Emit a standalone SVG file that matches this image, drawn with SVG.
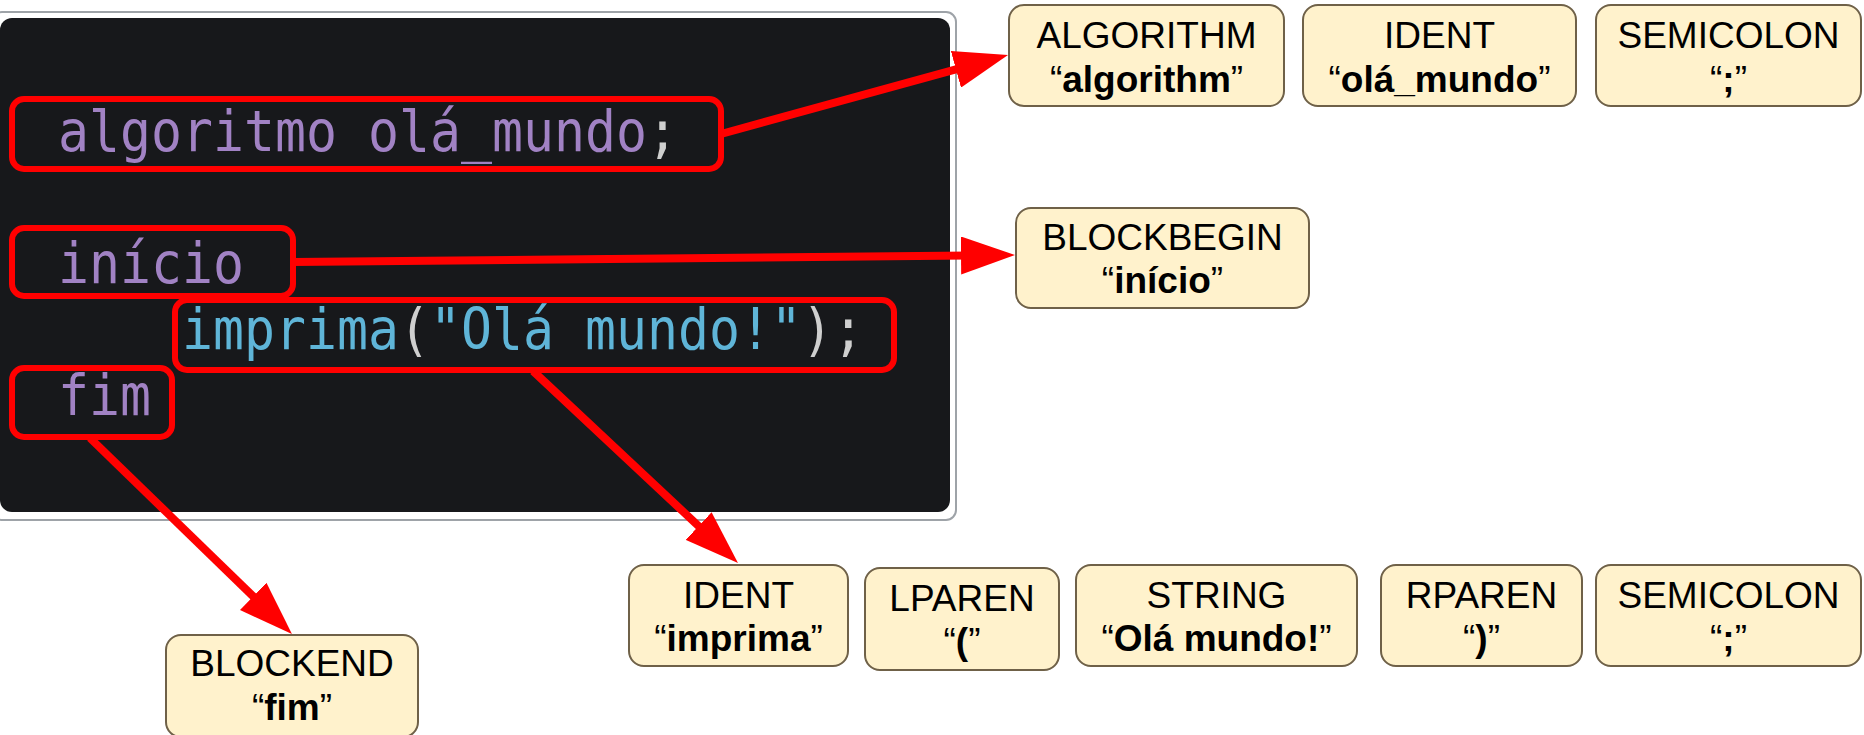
<svg xmlns="http://www.w3.org/2000/svg" width="1864" height="735" viewBox="0 0 1864 735">
  <style>
    .node rect { fill: #fff2cc; stroke: #6f6148; stroke-width: 2; }
    .node text { font-family: "Liberation Sans", Arial, sans-serif; font-size: 37px; fill: #000; text-anchor: middle; }
    .node .b { font-weight: bold; }
    .code { font-family: "DejaVu Sans Mono", "Liberation Mono", monospace; font-size: 51.5px; }
    .kw { fill: #a182c4; }
    .id { fill: #5fb5d8; }
    .pn { fill: #cfcfcf; }
    .hl { fill: none; stroke: #ff0000; stroke-width: 6; }
    .conn { fill: none; stroke: #ff0000; stroke-width: 8; marker-end: url(#head); }
  </style>
  <defs>
    <marker id="head" markerUnits="userSpaceOnUse" viewBox="0 0 54 38" markerWidth="54" markerHeight="38" refX="34" refY="19" orient="auto">
      <path d="M0,0 L54,19 L0,38 Z" fill="#ff0000"/>
    </marker>
  </defs>

  <rect x="0" y="0" width="1864" height="735" fill="#ffffff"/>

  <g id="code-panel">
    <rect x="-8" y="12" width="964" height="508" rx="10" fill="#ffffff" stroke="#9ea3a8" stroke-width="2"/>
    <rect x="0" y="18" width="950" height="494" rx="12" fill="#17181b"/>
    <text class="code" x="58" y="0" transform="matrix(1,0,0,1.12,0,151)"><tspan class="kw">algoritmo olá_mundo</tspan><tspan class="pn">;</tspan></text>
    <text class="code kw" x="58" y="0" transform="matrix(1,0,0,1.12,0,283)">início</text>
    <text class="code" x="182" y="0" transform="matrix(1,0,0,1.12,0,349)"><tspan class="id">imprima</tspan><tspan class="pn">(</tspan><tspan class="id">"Olá mundo!"</tspan><tspan class="pn">);</tspan></text>
    <text class="code kw" x="58" y="0" transform="matrix(1,0,0,1.12,0,415)">fim</text>
    <rect class="hl" x="12" y="99" width="709" height="70" rx="12"/>
    <rect class="hl" x="12" y="228" width="281" height="68" rx="12"/>
    <rect class="hl" x="175" y="300" width="719" height="70" rx="12"/>
    <rect class="hl" x="12" y="368" width="160" height="69" rx="12"/>
  </g>

  <g id="connectors">
    <path class="conn" d="M721,134 L988.7,60.3"/>
    <path class="conn" d="M293,262 L995,255.2"/>
    <path class="conn" d="M533,371 L723.4,549.3"/>
    <path class="conn" d="M90,438 L277.6,620.1"/>
  </g>

  <g id="n-algorithm" class="node">
    <rect x="1009" y="5" width="275" height="101" rx="15"/>
    <text x="1146.5" y="48">ALGORITHM</text>
    <text x="1146.5" y="92">“<tspan class="b">algorithm</tspan>”</text>
  </g>
  <g id="n-ident-ola" class="node">
    <rect x="1303" y="5" width="273" height="101" rx="15"/>
    <text x="1439.5" y="48">IDENT</text>
    <text x="1439.5" y="92">“<tspan class="b">olá_mundo</tspan>”</text>
  </g>
  <g id="n-semicolon-1" class="node">
    <rect x="1596" y="5" width="265" height="101" rx="15"/>
    <text x="1728.5" y="48">SEMICOLON</text>
    <text x="1728.5" y="92">“<tspan class="b">;</tspan>”</text>
  </g>
  <g id="n-blockbegin" class="node">
    <rect x="1016" y="208" width="293" height="100" rx="15"/>
    <text x="1162.5" y="250">BLOCKBEGIN</text>
    <text x="1162.5" y="293">“<tspan class="b">início</tspan>”</text>
  </g>
  <g id="n-ident-imprima" class="node">
    <rect x="629" y="565" width="219" height="101" rx="15"/>
    <text x="738.5" y="608">IDENT</text>
    <text x="738.5" y="651">“<tspan class="b">imprima</tspan>”</text>
  </g>
  <g id="n-lparen" class="node">
    <rect x="865" y="568" width="194" height="102" rx="15"/>
    <text x="962" y="611">LPAREN</text>
    <text x="962" y="654">“<tspan class="b">(</tspan>”</text>
  </g>
  <g id="n-string" class="node">
    <rect x="1076" y="565" width="281" height="101" rx="15"/>
    <text x="1216.5" y="608">STRING</text>
    <text x="1216.5" y="651">“<tspan class="b">Olá mundo!</tspan>”</text>
  </g>
  <g id="n-rparen" class="node">
    <rect x="1381" y="565" width="201" height="101" rx="15"/>
    <text x="1481.5" y="608">RPAREN</text>
    <text x="1481.5" y="651">“<tspan class="b">)</tspan>”</text>
  </g>
  <g id="n-semicolon-2" class="node">
    <rect x="1596" y="565" width="265" height="101" rx="15"/>
    <text x="1728.5" y="608">SEMICOLON</text>
    <text x="1728.5" y="651">“<tspan class="b">;</tspan>”</text>
  </g>
  <g id="n-blockend" class="node">
    <rect x="166" y="635" width="252" height="102" rx="15"/>
    <text x="292" y="676">BLOCKEND</text>
    <text x="292" y="720">“<tspan class="b">fim</tspan>”</text>
  </g>
</svg>
